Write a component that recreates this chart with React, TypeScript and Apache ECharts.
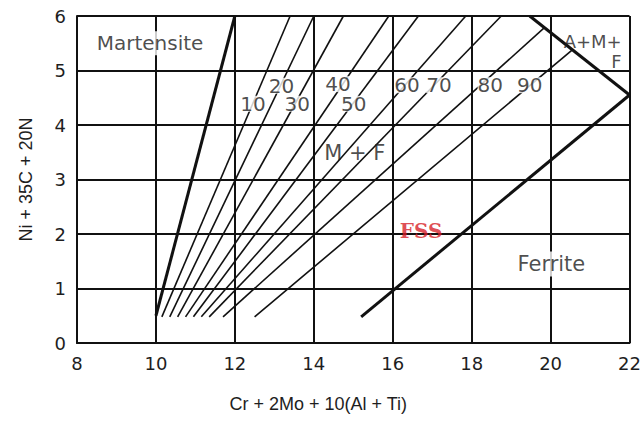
import React, { useEffect, useRef } from "react";
import * as echarts from "echarts";

// Axis ranges
const xMin = 8, xMax = 22, xStep = 2;
const yMin = 0, yMax = 6, yStep = 1;

// Martensite / (M + F) boundary (thick)
const martensiteBoundaryX = [10.0, 12.0];
const martensiteBoundaryY = [0.5, 6.0];

// Iso-ferrite lines (thin): % ferrite, start and end points
const ferritePercent = ["10", "20", "30", "40", "50", "60", "70", "80", "90"];
const ferriteStartX = [10.15, 10.35, 10.55, 10.75, 10.95, 11.15, 11.35, 11.7, 12.5];
const ferriteStartY = [0.48, 0.48, 0.48, 0.48, 0.48, 0.48, 0.48, 0.48, 0.48];
const ferriteEndX = [13.4, 14.0, 14.75, 15.9, 16.65, 17.85, 18.75, 19.85, 20.55];
const ferriteEndY = [6.0, 6.0, 6.0, 6.0, 6.0, 6.0, 6.0, 5.79, 5.38];

// Iso-ferrite line labels
const percentLabelX = [12.46, 13.18, 13.58, 14.61, 15.01, 16.36, 17.17, 18.47, 19.47];
const percentLabelY = [4.39, 4.72, 4.39, 4.75, 4.39, 4.73, 4.73, 4.73, 4.73];

// A+M+F boundary and Ferrite boundary (thick)
const amfBoundaryX = [19.47, 22.0];
const amfBoundaryY = [6.0, 4.55];
const ferriteBoundaryX = [15.2, 22.0];
const ferriteBoundaryY = [0.48, 4.55];

// Region labels
const regionNames = ["Martensite", "M + F", "Ferrite"];
const regionX = [9.85, 15.04, 20.02];
const regionY = [5.5, 3.49, 1.45];

const amfLines = ["A+M+", "F"];
const amfX = [21.8, 21.8];
const amfY = [5.54, 5.17];

const fssName = "FSS";
const fssX = 16.72;
const fssY = 2.06;

const FONT = "Liberation Sans";
const WIDE = "DejaVu Sans";
const TXT = "#1e1e1e";

function seg(xs: number[], ys: number[]) {
  return xs.map((x, i) => [x, ys[i]]);
}

export default function App() {
  const ref = useRef<HTMLDivElement>(null);
  useEffect(() => {
    if (!ref.current) return;
    const chart = echarts.init(ref.current, undefined, { renderer: "svg" });

    const thin = { color: "#111", width: 1.6 };
    const thick = { color: "#111", width: 3 };
    const lineSeries: any[] = [];
    lineSeries.push({
      type: "line", data: seg(martensiteBoundaryX, martensiteBoundaryY),
      symbol: "none", lineStyle: thick, z: 3, silent: true,
    });
    ferritePercent.forEach((p, i) => {
      lineSeries.push({
        type: "line", name: p,
        data: [[ferriteStartX[i], ferriteStartY[i]], [ferriteEndX[i], ferriteEndY[i]]],
        symbol: "none", lineStyle: thin, z: 3, silent: true,
      });
    });
    lineSeries.push({
      type: "line", data: seg(amfBoundaryX, amfBoundaryY),
      symbol: "none", lineStyle: thick, z: 3, silent: true,
    });
    lineSeries.push({
      type: "line", data: seg(ferriteBoundaryX, ferriteBoundaryY),
      symbol: "none", lineStyle: thick, z: 3, silent: true,
    });

    const percentLabels = {
      type: "scatter", symbolSize: 0, z: 10, silent: true,
      data: ferritePercent.map((p, i) => ({ name: p, value: [percentLabelX[i], percentLabelY[i]] })),
      label: {
        show: true, position: "inside", formatter: "{b}",
        fontFamily: WIDE, fontSize: 20, lineHeight: 16, color: TXT,
        backgroundColor: "#fff", padding: 0,
      },
    };
    const regionLabels = {
      type: "scatter", symbolSize: 0, z: 10, silent: true,
      data: regionNames.map((n, i) => ({
        name: n, value: [regionX[i], regionY[i]],
        label: i === 1
          ? { backgroundColor: "transparent", fontSize: 21 }
          : i === 2 ? { fontSize: 21 } : {},
      })),
      label: {
        show: true, position: "inside", formatter: "{b}",
        fontFamily: WIDE, fontSize: 20, color: TXT,
        backgroundColor: "#fff", padding: [2, 4],
      },
    };
    const amfLabels = {
      type: "scatter", symbolSize: 0, z: 10, silent: true,
      data: amfLines.map((n, i) => ({ name: n, value: [amfX[i], amfY[i]] })),
      label: {
        show: true, position: "inside", formatter: "{b}", align: "right",
        fontFamily: WIDE, fontSize: 18, lineHeight: 15, color: TXT,
      },
    };
    const fssLabel = {
      type: "scatter", symbolSize: 0, z: 10, silent: true,
      data: [{ name: fssName, value: [fssX, fssY] }],
      label: {
        show: true, position: "inside", formatter: "{b}",
        fontFamily: "DejaVu Serif", fontWeight: "bold", fontSize: 20, color: "#d71f28",
      },
    };

    chart.setOption({
      animation: false,
      backgroundColor: "#fff",
      grid: { left: 77, right: 8, top: 16, bottom: 78 },
      xAxis: {
        type: "value", min: xMin, max: xMax, interval: xStep,
        name: "Cr + 2Mo + 10(Al + Ti)", nameLocation: "middle", nameGap: 52,
        nameTextStyle: { fontFamily: FONT, fontSize: 18, color: TXT, padding: [0, 70, 0, 0] },
        axisLine: { show: true, lineStyle: { color: "#111", width: 2 } },
        axisTick: { show: false },
        axisLabel: { fontFamily: WIDE, fontSize: 18, color: TXT, margin: 11 },
        splitLine: { show: true, lineStyle: { color: "#111", width: 2 } },
      },
      yAxis: {
        type: "value", min: yMin, max: yMax, interval: yStep,
        name: "Ni + 35C + 20N", nameLocation: "middle", nameGap: 42,
        nameTextStyle: { fontFamily: FONT, fontSize: 18, color: TXT },
        axisLine: { show: true, lineStyle: { color: "#111", width: 2 } },
        axisTick: { show: false },
        axisLabel: { fontFamily: WIDE, fontSize: 18, color: TXT, margin: 11 },
        splitLine: { show: true, lineStyle: { color: "#111", width: 2 } },
      },
      series: [...lineSeries, percentLabels, regionLabels, amfLabels, fssLabel],
    });
    return () => chart.dispose();
  }, []);
  return (
    <div
      ref={ref}
      style={{ position: "absolute", left: 0, top: 0, width: 644, height: 421 }}
    />
  );
}
